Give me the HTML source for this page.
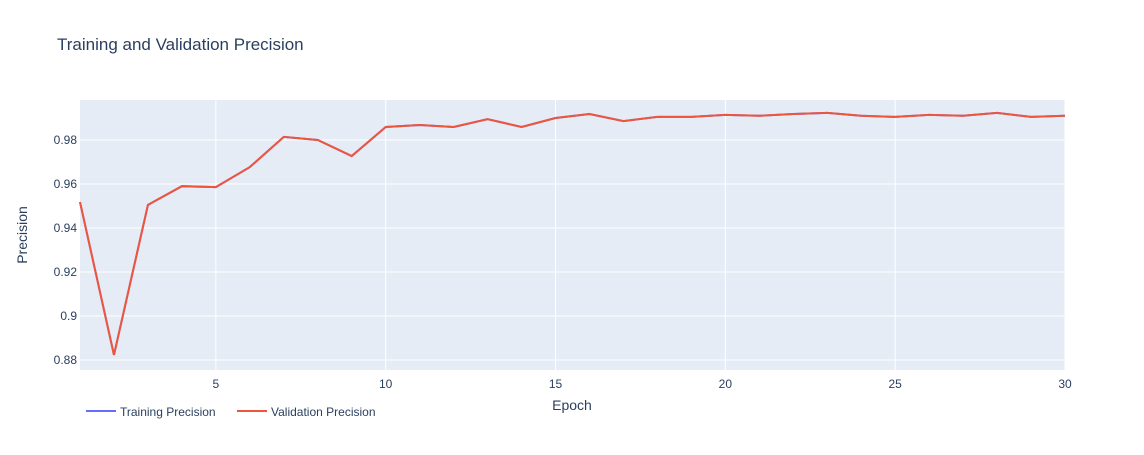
<!DOCTYPE html>
<html><head><meta charset="utf-8"><style>
body{margin:0;background:#fff;font-family:"Liberation Sans",Arial,sans-serif}
svg text{font-family:"Liberation Sans",Arial,sans-serif}
</style></head><body>
<svg id="chart" width="1144" height="450" xmlns="http://www.w3.org/2000/svg">
<rect width="1144" height="450" fill="#fff"/>
<text x="57" y="50" font-size="17" fill="#2a3f5f">Training and Validation Precision</text>
<rect x="80" y="100" width="985" height="270" fill="#e5ecf6"/>
<g id="grid"></g>
<g id="lines"></g>
<g id="ticks"></g>
<text x="572" y="410" font-size="14" fill="#2a3f5f" text-anchor="middle">Epoch</text>
<text transform="translate(27,235) rotate(-90)" font-size="14" fill="#2a3f5f" text-anchor="middle">Precision</text>
<g>
<g><line x1="86" y1="411" x2="116" y2="411" stroke="#636efa" stroke-width="2"/><text x="120" y="416" font-size="12" fill="#2a3f5f">Training Precision</text></g>
<g><line x1="237" y1="411" x2="267" y2="411" stroke="#ef553b" stroke-width="2"/><text x="271" y="416" font-size="12" fill="#2a3f5f">Validation Precision</text></g>
</g>
</svg>
<script>
const epochs=[1,2,3,4,5,6,7,8,9,10,11,12,13,14,15,16,17,18,19,20,21,22,23,24,25,26,27,28,29,30];
const trainPrecision=[0.9518,0.8823,0.9505,0.959,0.9586,0.9677,0.9814,0.980,0.9727,0.9859,0.9868,0.9859,0.9895,0.9859,0.990,0.9918,0.9886,0.9905,0.9905,0.9914,0.991,0.9918,0.9923,0.991,0.9905,0.9914,0.991,0.9923,0.9905,0.991];
const valPrecision=[0.9518,0.8823,0.9505,0.959,0.9586,0.9677,0.9814,0.980,0.9727,0.9859,0.9868,0.9859,0.9895,0.9859,0.990,0.9918,0.9886,0.9905,0.9905,0.9914,0.991,0.9918,0.9923,0.991,0.9905,0.9914,0.991,0.9923,0.9905,0.991];
const xTicks=[5,10,15,20,25,30];
const yTicks=[0.88,0.9,0.92,0.94,0.96,0.98];
const yTickLabels=["0.88","0.9","0.92","0.94","0.96","0.98"];
const NS="http://www.w3.org/2000/svg";
const X0=80,X1=1065,Y0=370,Y1=100,xmin=1,xmax=30,ymin=0.87545,ymax=0.99818;
function xs(v){return X0+(v-xmin)/(xmax-xmin)*(X1-X0);}
function ys(v){return Y0-(v-ymin)/(ymax-ymin)*(Y0-Y1);}
const grid=document.getElementById('grid'),ticks=document.getElementById('ticks'),lines=document.getElementById('lines');
xTicks.forEach(t=>{
 const l=document.createElementNS(NS,'line');
 
 
 l.setAttribute('x1',xs(t));l.setAttribute('x2',xs(t));l.setAttribute('y1',Y1);l.setAttribute('y2',Y0);
 l.setAttribute('stroke','#fff');l.setAttribute('stroke-width','1');grid.appendChild(l);
 const tx=document.createElementNS(NS,'text');
 
 
 tx.setAttribute('x',xs(t));tx.setAttribute('y',Y0+18);tx.setAttribute('text-anchor','middle');
 tx.setAttribute('font-size','12');tx.setAttribute('fill','#2a3f5f');tx.textContent=t;ticks.appendChild(tx);
});
yTicks.forEach((t,i)=>{
 const l=document.createElementNS(NS,'line');
 
 
 l.setAttribute('x1',X0);l.setAttribute('x2',X1);l.setAttribute('y1',ys(t));l.setAttribute('y2',ys(t));
 l.setAttribute('stroke','#fff');l.setAttribute('stroke-width','1');grid.appendChild(l);
 const tx=document.createElementNS(NS,'text');
 
 
 tx.setAttribute('x',X0-3);tx.setAttribute('y',ys(t)+4);tx.setAttribute('text-anchor','end');
 tx.setAttribute('font-size','12');tx.setAttribute('fill','#2a3f5f');tx.textContent=yTickLabels[i];ticks.appendChild(tx);
});
function drawLine(vals,color,name){
 const p=document.createElementNS(NS,'polyline');
 
 
 p.setAttribute('points',vals.map((v,i)=>xs(epochs[i])+','+ys(v)).join(' '));
 p.setAttribute('fill','none');p.setAttribute('stroke',color);p.setAttribute('stroke-width','2');
 lines.appendChild(p);
}
drawLine(trainPrecision,'#636efa','training-precision-line');
drawLine(valPrecision,'#ef553b','validation-precision-line');
</script>
</body></html>
